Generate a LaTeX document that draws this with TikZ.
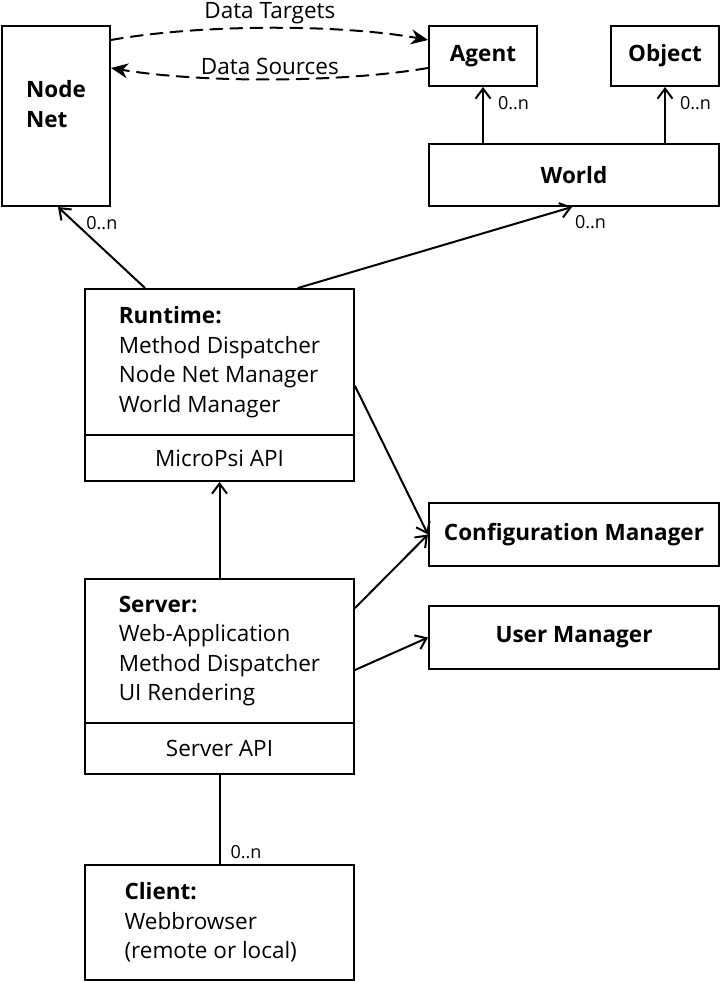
\documentclass[tikz,border=0pt]{standalone}
\usepackage{fontspec}
\setmainfont{Open Sans}
\usetikzlibrary{arrows.meta}

\begin{document}
\begin{tikzpicture}[x=1pt, y=-1pt, line cap=round, line width=2pt,
  box/.style={draw, inner sep=0pt, anchor=north west},
  txt/.style={font=\fontsize{22.5}{29.5}\selectfont},
  ttl/.style={font=\fontsize{22.5}{30}\selectfont\bfseries},
  lbl/.style={font=\fontsize{18}{20}\selectfont, inner sep=2pt},
  assoc/.style={-{Straight Barb[length=10pt,width=15pt]}},
  flow/.style={dash pattern=on 12pt off 8pt, -{Stealth[length=17pt,width=15pt]}}]

\useasboundingbox (0,0) rectangle (720,981);

%% Les boites du haut.

\node[box, minimum width=108pt, minimum height=180pt] (nodenet) at (1,25) {};
\node[ttl, align=left] (nodenetlbl) at ([yshift=12pt]nodenet.center) {Node\\Net};
\node[box, ttl, minimum width=108pt, minimum height=60pt] (agent) at (428,25) {Agent};
\node[box, ttl, minimum width=108pt, minimum height=60pt] (object) at (610,25) {Object};
\node[box, ttl, minimum width=290pt, minimum height=62pt] (world) at (428,143) {World};

%% Runtime et serveur.

\node[box, txt, align=left, minimum width=269pt, minimum height=146pt] (runtime) at (84,288)
  {\textbf{Runtime:}\\Method Dispatcher\\Node Net Manager\\World Manager};
\node[box, txt, minimum width=269pt, minimum height=46pt] (mpapi) at (84,434) {MicroPsi API};
\node[box, ttl, minimum width=290pt, minimum height=63pt] (config) at (428,502) {Configuration Manager};
\node[box, ttl, minimum width=290pt, minimum height=63pt] (users) at (428,605) {User Manager};
\node[box, txt, align=left, minimum width=269pt, minimum height=144pt] (server) at (84,578)
  {\textbf{Server:}\\Web-Application\\Method Dispatcher\\UI Rendering};
\node[box, txt, minimum width=269pt, minimum height=51pt] (srvapi) at (84,722) {Server API};
\node[box, txt, align=flush left, text width=190pt, minimum width=269pt, minimum height=115pt] (client) at (84,864)
  {\textbf{Client:}\\Webbrowser\\(remote or local)};

%% Flux de donnees.

\draw[flow] ([yshift=-15pt]nodenet.north east) .. controls (200,24) and (340,24) ..
  node[txt, above] {Data Targets} ([yshift=-15pt]agent.north west);
\draw[flow] ([yshift=-43pt]agent.north west) .. controls (340,83) and (200,83) ..
  node[txt, above] {Data Sources} ([yshift=-43pt]nodenet.north east);

%% Associations.

\draw[assoc] ([xshift=61pt]runtime.north west) -- node[lbl, pos=0.8, right, xshift=8pt] {0..n} ([xshift=57pt]nodenet.south west);
\draw[assoc] ([xshift=214pt]runtime.north west) -- node[lbl, pos=1, anchor=north west, yshift=-5pt] {0..n} ([xshift=144pt]world.south west);
\draw[assoc] (world.north -| agent.south) -- node[lbl, pos=0.72, right, xshift=12pt] {0..n} (agent.south);
\draw[assoc] (world.north -| object.south) -- node[lbl, pos=0.72, right, xshift=12pt] {0..n} (object.south);
\draw[assoc] ([yshift=-24pt]runtime.east) -- (config.west);
\draw[assoc] ([yshift=43pt]server.east) -- (config.west);
\draw[assoc] ([yshift=-19pt]server.east) -- (users.west);
\draw[assoc] (server.north) -- (mpapi.south);
\draw (srvapi.south) -- node[lbl, pos=0.87, right, xshift=8pt] {0..n} (client.north);

\end{tikzpicture}
\end{document}
